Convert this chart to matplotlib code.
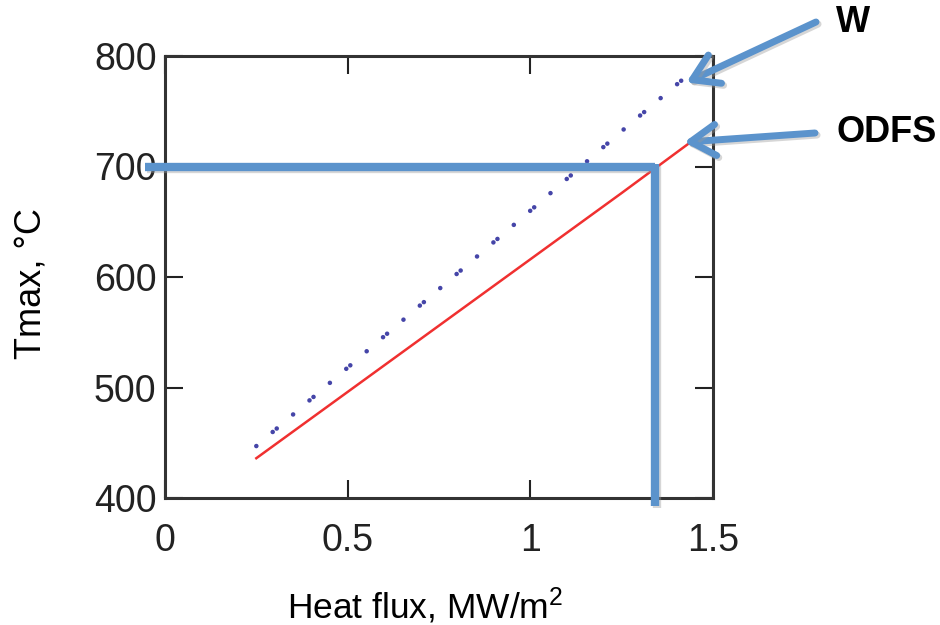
import matplotlib
matplotlib.use("Agg")
import matplotlib.pyplot as plt
import matplotlib.patheffects as pe

# Maximum temperature vs. heat flux for two materials
flux_odfs = [0.25, 0.5, 0.75, 1.0, 1.25, 1.5]
tmax_odfs = [436, 496, 556, 616, 676, 737]
flux_w = [0.25, 0.5, 0.75, 1.0, 1.25, 1.45]
tmax_w = [447, 518, 589, 660, 732, 788]

# Design limit guide (temperature limit and corresponding flux)
limit_temp = 700
limit_flux = 1.34

x_ticks = [0, 0.5, 1, 1.5]
x_tick_labels = ["0", "0.5", "1", "1.5"]
y_ticks = [400, 500, 600, 700, 800]
y_tick_labels = ["400", "500", "600", "700", "800"]

plt.rcParams["font.family"] = ["Liberation Sans", "DejaVu Sans"]
plt.rcParams["mathtext.fontset"] = "custom"
plt.rcParams["mathtext.rm"] = "Liberation Sans"
plt.rcParams["mathtext.it"] = "Liberation Sans:italic"
plt.rcParams["mathtext.bf"] = "Liberation Sans:bold"

fig = plt.figure(figsize=(9.4, 6.25), dpi=100)
ax = fig.add_axes([0.1755, 0.2032, 0.583, 0.7072])

ax.plot(flux_odfs, tmax_odfs, color="#f03030", lw=1.8, zorder=3)
ax.plot(flux_w, tmax_w, color="#4545a8", lw=3.3, dash_capstyle="round",
        dashes=(0.01, 4.7, 0.01, 1.15, 0.01, 4.7), zorder=3)

ax.set_xlim(0, 1.5)
ax.set_ylim(400, 800)
ax.set_xticks(x_ticks)
ax.set_xticklabels(x_tick_labels)
ax.set_yticks(y_ticks)
ax.set_yticklabels(y_tick_labels)
ax.tick_params(direction="in", length=13, width=1.5, colors="#222222",
               labelsize=27, top=True, right=True, labelcolor="#222222")
ax.tick_params(axis="x", pad=18)
ax.tick_params(axis="y", pad=6)
for s in ax.spines.values():
    s.set_linewidth(2.2)
    s.set_color("#333333")

ax.set_xlabel("Heat flux, MW/m$\\mathregular{^2}$", fontsize=25.5)
ax.xaxis.set_label_coords(0.474, -0.198)
ax.set_ylabel("Tmax, °C", fontsize=26)
ax.yaxis.set_label_coords(-0.213, 0.486)

guide_color = "#5b93cc"
shadow = [pe.SimpleLineShadow(offset=(1.5, -1.5), shadow_color="#999999", alpha=0.4),
          pe.Normal()]
ax.plot([-0.054, limit_flux], [limit_temp, limit_temp], color=guide_color,
        lw=6, solid_capstyle="butt", clip_on=False, zorder=5, path_effects=shadow)
ax.plot([limit_flux, limit_flux], [limit_temp + 2.7, 393], color=guide_color,
        lw=6, solid_capstyle="butt", clip_on=False, zorder=5, path_effects=shadow)

arrow_kw = dict(arrowstyle="->,head_length=0.45,head_width=0.28", color=guide_color,
                lw=5, shrinkA=0, shrinkB=0, mutation_scale=40,
                path_effects=[pe.SimpleLineShadow(offset=(1.5, -1.5), shadow_color="#999999",
                                                  alpha=0.4), pe.Normal()])
ax.annotate("", xy=(1.427, 776), xycoords="data", xytext=(816, 603),
            textcoords="figure pixels", arrowprops=arrow_kw, annotation_clip=False)
ax.annotate("", xy=(1.421, 722), xycoords="data", xytext=(815, 492),
            textcoords="figure pixels", arrowprops=arrow_kw, annotation_clip=False)

fig.text(836 / 940, 1 - 22 / 625, "W", fontsize=26, fontweight="bold",
         ha="left", va="center")
fig.text(836 / 940, 1 - 133 / 625, "ODFS", fontsize=26, fontweight="bold",
         ha="left", va="center")

fig.savefig("out.png", dpi=100)
